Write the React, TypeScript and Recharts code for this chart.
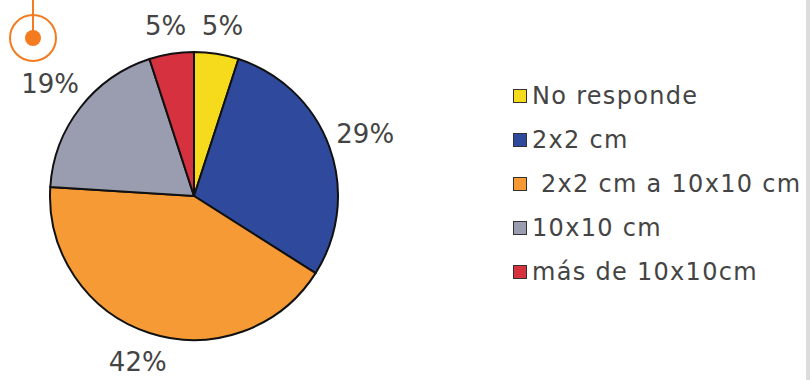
import React from 'react';
import { PieChart, Pie, Cell, Legend } from 'recharts';

const categories = ['No responde', '2x2 cm', ' 2x2 cm a 10x10 cm', '10x10 cm', 'más de 10x10cm'];
const values = [5, 29, 42, 19, 5];
const colors = ['#f6da1c', '#2f4a9c', '#f59a35', '#9a9db0', '#d5313f'];

const data = categories.map((name, i) => ({ name, value: values[i] }));

const FONT = '"DejaVu Sans", sans-serif';
const RAD = Math.PI / 180;

// labels sit outside the slice, kept inside the plot area like Excel's best fit
const renderLabel = (props: any) => {
  const { cx, cy, midAngle, outerRadius, value } = props;
  const r = outerRadius + 38;
  const x = cx + r * Math.cos(-midAngle * RAD);
  let y = cy + r * Math.sin(-midAngle * RAD);
  y = Math.max(26, Math.min(362, y));
  return (
    <text x={x} y={y} textAnchor="middle" dominantBaseline="central"
      fill="#444" fontSize={26} fontFamily={FONT}>
      {`${value}%`}
    </text>
  );
};

const LegendList = () => (
  <div style={{ fontFamily: FONT }}>
    {data.map((d, i) => (
      <div key={d.name} style={{ display: 'flex', alignItems: 'center', height: 44 }}>
        <span style={{
          width: 12, height: 12, background: colors[i], border: '1px solid #333',
          marginRight: 5, flexShrink: 0,
        }} />
        <span style={{ fontSize: 24, letterSpacing: 1.3, color: '#444', whiteSpace: 'pre' }}>
          {d.name}
        </span>
      </div>
    ))}
  </div>
);

export default function App() {
  return (
    <div style={{ position: 'absolute', left: 0, top: 0, width: 810, height: 380, background: '#fff', overflow: 'hidden' }}>
      <PieChart width={810} height={380} margin={{ top: 0, right: 0, bottom: 0, left: 0 }}>
        <Pie
          data={data}
          dataKey="value"
          nameKey="name"
          cx={194}
          cy={196}
          outerRadius={144}
          startAngle={90}
          endAngle={-270}
          stroke="#111"
          strokeWidth={2}
          label={renderLabel}
          labelLine={false}
          isAnimationActive={false}
        >
          {data.map((d, i) => (
            <Cell key={d.name} fill={colors[i]} />
          ))}
        </Pie>
        <Legend
          layout="vertical"
          content={<LegendList />}
          wrapperStyle={{ position: 'absolute', left: 513, top: 74, width: 300 }}
        />
      </PieChart>
      <svg width={80} height={80} style={{ position: 'absolute', left: 0, top: 0 }}>
        <line x1={33} y1={0} x2={33} y2={38} stroke="#f47b20" strokeWidth={2} />
        <circle cx={33} cy={38} r={23} fill="none" stroke="#f47b20" strokeWidth={2} />
        <circle cx={33} cy={38} r={8} fill="#f47b20" />
      </svg>
      <div style={{ position: 'absolute', left: 806, top: 0, width: 4, height: 380, background: '#dcdcdc' }} />
    </div>
  );
}
